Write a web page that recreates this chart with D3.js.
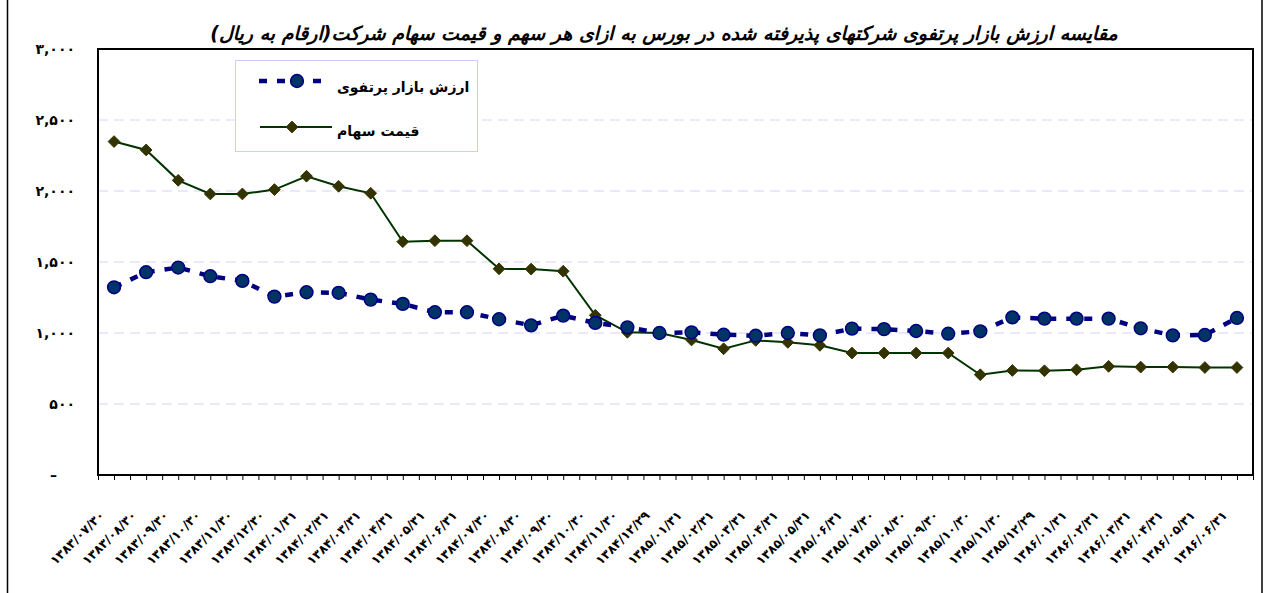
<!DOCTYPE html>
<html>
<head>
<meta charset="utf-8">
<script src="https://cdn.jsdelivr.net/npm/d3@7"></script>
<style>
  body { margin: 0; background: #fff; }
  svg { display: block; font-family: 'DejaVu Sans', sans-serif; }
</style>
</head>
<body>
<svg id="chart" width="1269" height="593"></svg>
<script>
// category labels (Persian dates)
const categories = [
  '۱۳۸۳/۰۷/۳۰', '۱۳۸۳/۰۸/۳۰', '۱۳۸۳/۰۹/۳۰', '۱۳۸۳/۱۰/۳۰', '۱۳۸۳/۱۱/۳۰', '۱۳۸۳/۱۲/۳۰',
  '۱۳۸۴/۰۱/۳۱', '۱۳۸۴/۰۲/۳۱', '۱۳۸۴/۰۳/۳۱', '۱۳۸۴/۰۴/۳۱', '۱۳۸۴/۰۵/۳۱', '۱۳۸۴/۰۶/۳۱',
  '۱۳۸۴/۰۷/۳۰', '۱۳۸۴/۰۸/۳۰', '۱۳۸۴/۰۹/۳۰', '۱۳۸۴/۱۰/۳۰', '۱۳۸۴/۱۱/۳۰', '۱۳۸۴/۱۲/۲۹',
  '۱۳۸۵/۰۱/۳۱', '۱۳۸۵/۰۲/۳۱', '۱۳۸۵/۰۳/۳۱', '۱۳۸۵/۰۴/۳۱', '۱۳۸۵/۰۵/۳۱', '۱۳۸۵/۰۶/۳۱',
  '۱۳۸۵/۰۷/۳۰', '۱۳۸۵/۰۸/۳۰', '۱۳۸۵/۰۹/۳۰', '۱۳۸۵/۱۰/۳۰', '۱۳۸۵/۱۱/۳۰', '۱۳۸۵/۱۲/۲۹',
  '۱۳۸۶/۰۱/۳۱', '۱۳۸۶/۰۲/۳۱', '۱۳۸۶/۰۳/۳۱', '۱۳۸۶/۰۴/۳۱', '۱۳۸۶/۰۵/۳۱', '۱۳۸۶/۰۶/۳۱'
]

// ارزش بازار پرتفوی
const portfolioValues = [
  1322, 1428, 1461, 1400, 1367, 1256, 1287, 1283, 1235, 1205, 1146, 1146,
  1097, 1054, 1122, 1071, 1040, 1000, 1005, 988, 981, 1000, 983, 1031,
  1027, 1014, 995, 1012, 1110, 1101, 1101, 1101, 1033, 983, 986, 1106
]

// قیمت سهام
const priceValues = [
  2348, 2289, 2075, 1979, 1979, 2010, 2104, 2033, 1984, 1643, 1650, 1650,
  1452, 1450, 1435, 1125, 1005, 1000, 951, 889, 948, 934, 913, 859,
  859, 859, 859, 706, 736, 734, 741, 765, 760, 760, 757, 757
]

const yTicks = [0, 500, 1000, 1500, 2000, 2500, 3000]
const yTickLabels = ['–', '۵۰۰', '۱,۰۰۰', '۱,۵۰۰', '۲,۰۰۰', '۲,۵۰۰', '۳,۰۰۰']

const title = 'مقایسه ارزش بازار پرتفوی شرکتهای پذیرفته شده  در بورس  به ازای هر سهم و قیمت سهام شرکت(ارقام به ریال)'
const seriesNames = ['ارزش بازار پرتفوی', 'قیمت سهام']

const svg = d3.select('#chart')
const plotLeft = 98, plotRight = 1253, plotTop = 49, plotBottom = 475

var x = d3.scaleBand().domain(categories).range([plotLeft, plotRight]).padding(0)
var y = d3.scaleLinear().domain([0, 3000]).range([plotBottom, plotTop])
var half = d3.scaleLinear().domain([0, categories.length * 2]).range([plotLeft, plotRight])
var cx = function(d, i) { return x(categories[i]) + x.bandwidth() / 2 }

// outer frame
svg.append('line').attr('x1', 7.5).attr('x2', 7.5).attr('y1', 0).attr('y2', 593)
  .attr('stroke', '#000').attr('stroke-width', 1.5)
svg.append('line').attr('x1', 1262).attr('x2', 1262).attr('y1', 0).attr('y2', 593)
  .attr('stroke', '#000').attr('stroke-width', 1.5)

// title
svg.append('text')
  .attr('x', 664).attr('y', 40)
  .attr('text-anchor', 'middle')
  .style('font-size', '19px').style('font-weight', 'bold').style('font-style', 'italic')
  .text(title)

// gridlines
svg.append('g')
  .selectAll('line')
  .data(yTicks.filter(function(t) { return t > 0 && t < 3000 }))
  .enter().append('line')
  .attr('x1', plotLeft).attr('x2', plotRight)
  .attr('y1', function(d) { return y(d) }).attr('y2', function(d) { return y(d) })
  .attr('stroke', '#d4d4fa').attr('stroke-width', 1)
  .attr('stroke-dasharray', '10,6')

// y axis labels
var yAxis = d3.axisLeft(y).tickValues(yTicks).tickSize(0)
  .tickFormat(function(d, i) { return yTickLabels[i] })
svg.append('g').attr('transform', 'translate(75,0)').call(yAxis)
  .call(function(g) { g.select('.domain').remove() })
  .selectAll('text')
  .attr('x', function(d) { return d === 0 ? -18 : 0 })
  .style('font-size', '14px').style('font-weight', 'bold').style('font-family', 'DejaVu Sans')
  .attr('fill', '#000')

// x axis ticks (at category edges and centres)
var tickAxis = d3.axisBottom(half).tickValues(d3.range(0, categories.length * 2 + 1))
  .tickSize(5).tickSizeOuter(0).tickFormat('')
svg.append('g').attr('transform', 'translate(0,' + plotBottom + ')').call(tickAxis)
  .call(function(g) { g.select('.domain').remove() })
  .selectAll('line').attr('stroke', '#000').attr('stroke-width', 1)

// x axis labels
var xAxis = d3.axisBottom(x).tickSize(0).tickSizeOuter(0)
svg.append('g').attr('transform', 'translate(0,' + plotBottom + ')').call(xAxis)
  .call(function(g) { g.select('.domain').remove() })
  .selectAll('text')
  .attr('y', 0).attr('dy', 0)
  .attr('transform', 'translate(-9,41) rotate(-45)')
  .attr('text-anchor', 'end')
  .style('font-size', '12.5px').style('font-weight', 'bold').style('font-family', 'DejaVu Sans')
  .attr('fill', '#000')

// plot area border
svg.append('rect')
  .attr('x', plotLeft).attr('y', plotTop).attr('width', plotRight - plotLeft).attr('height', plotBottom - plotTop)
  .attr('fill', 'none').attr('stroke', '#000').attr('stroke-width', 2)

// stock price line
var line = d3.line().x(cx).y(function(d) { return y(d) })
svg.append('path').datum(priceValues)
  .attr('d', line).attr('fill', 'none')
  .attr('stroke', '#003300').attr('stroke-width', 2)

var diamond = d3.symbol().type(d3.symbolDiamond2).size(88)
svg.append('g').selectAll('path')
  .data(priceValues).enter().append('path')
  .attr('d', diamond)
  .attr('transform', function(d, i) { return 'translate(' + cx(d, i) + ',' + y(d) + ')' })
  .attr('fill', '#333300').attr('stroke', '#333300').attr('stroke-width', 1)

// portfolio line (dashed)
svg.append('path').datum(portfolioValues)
  .attr('d', line).attr('fill', 'none')
  .attr('stroke', '#000080').attr('stroke-width', 4.5)
  .attr('stroke-dasharray', '8,10')

svg.append('g').selectAll('circle')
  .data(portfolioValues).enter().append('circle')
  .attr('cx', cx).attr('cy', function(d) { return y(d) })
  .attr('r', 6.4)
  .attr('fill', '#003366').attr('stroke', '#000080').attr('stroke-width', 1.5)

// legend
var legend = svg.append('g')
legend.append('rect')
  .attr('x', 235.5).attr('y', 60.5).attr('width', 242).attr('height', 91)
  .attr('fill', '#fff').attr('stroke', '#ccccff').attr('stroke-width', 1)

legend.append('line')
  .attr('x1', 259).attr('x2', 323).attr('y1', 81).attr('y2', 81)
  .attr('stroke', '#000080').attr('stroke-width', 4.5).attr('stroke-dasharray', '8,10')
legend.append('circle')
  .attr('cx', 297).attr('cy', 81).attr('r', 6.4)
  .attr('fill', '#003366').attr('stroke', '#000080').attr('stroke-width', 1.5)
legend.append('text')
  .attr('x', 337).attr('y', 92)
  .style('font-size', '14px').style('font-weight', 'bold')
  .text(seriesNames[0])

legend.append('line')
  .attr('x1', 260).attr('x2', 332).attr('y1', 127).attr('y2', 127)
  .attr('stroke', '#003300').attr('stroke-width', 2)
legend.append('path')
  .attr('d', diamond)
  .attr('transform', 'translate(292,127)')
  .attr('fill', '#333300').attr('stroke', '#333300').attr('stroke-width', 1)
legend.append('text')
  .attr('x', 337).attr('y', 136)
  .style('font-size', '14px').style('font-weight', 'bold')
  .text(seriesNames[1])
</script>
</body>
</html>
